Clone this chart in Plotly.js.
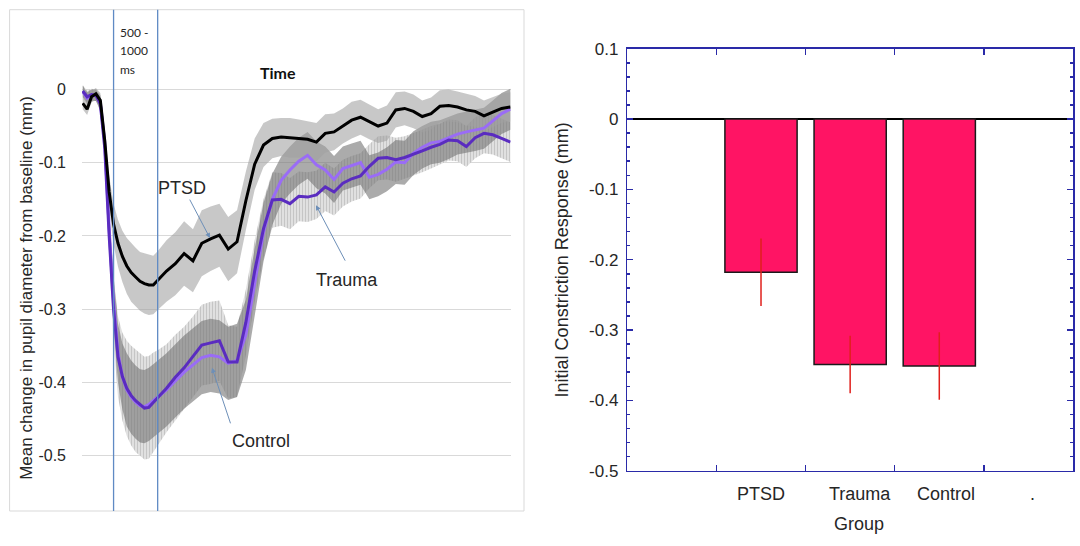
<!DOCTYPE html>
<html>
<head>
<meta charset="utf-8">
<script src="https://cdn.plot.ly/plotly-3.0.1.min.js"></script>
<style>html,body{margin:0;padding:0;background:#fff;}#chart{width:1080px;height:546px;}</style>
</head>
<body>
<div id="chart"></div>
<script>
// ---------- Left panel: pupil time course (ms) ----------
const time = [150,200,250,300,350,400,450,500,550,600,650,700,750,800,850,900,950,1000,
  1100,1200,1300,1400,1500,1600,1700,1800,1900,2000,2100,2200,2300,2400,2500,2600,2700,2800,2900,3000,
  3100,3200,3300,3400,3500,3600,3700,3800,3900,4000,4100,4200,4300,4400,4500,4600,4700,4800,4900,5000];

const ptsdMean = [-0.019,-0.027,-0.010,-0.006,-0.015,-0.070,-0.140,-0.184,-0.210,-0.228,-0.241,-0.250,-0.256,-0.262,-0.265,-0.267,-0.267,-0.261,
  -0.248,-0.238,-0.224,-0.234,-0.210,-0.204,-0.199,-0.218,-0.208,-0.152,-0.102,-0.076,-0.067,-0.065,-0.066,-0.067,-0.068,-0.072,-0.060,-0.058,
  -0.050,-0.042,-0.038,-0.044,-0.050,-0.046,-0.028,-0.026,-0.030,-0.037,-0.033,-0.023,-0.022,-0.024,-0.028,-0.030,-0.036,-0.031,-0.026,-0.024];
const ptsdSem = [0.008,0.008,0.008,0.008,0.010,0.015,0.022,0.028,0.032,0.035,0.038,0.040,0.040,0.040,0.041,0.041,0.040,0.040,
  0.042,0.043,0.044,0.043,0.045,0.044,0.043,0.044,0.043,0.040,0.035,0.030,0.027,0.026,0.027,0.026,0.025,0.026,0.026,0.025,
  0.024,0.025,0.024,0.024,0.023,0.024,0.024,0.023,0.023,0.022,0.022,0.022,0.022,0.021,0.022,0.021,0.021,0.021,0.020,0.020];

const traumaMean = [-0.002,-0.010,-0.007,-0.008,-0.020,-0.080,-0.200,-0.300,-0.365,-0.392,-0.408,-0.418,-0.425,-0.430,-0.435,-0.434,-0.427,-0.421,
  -0.408,-0.393,-0.380,-0.365,-0.349,-0.346,-0.343,-0.372,-0.372,-0.318,-0.248,-0.190,-0.151,-0.150,-0.156,-0.146,-0.147,-0.144,-0.133,-0.140,
  -0.128,-0.122,-0.118,-0.105,-0.094,-0.093,-0.096,-0.093,-0.089,-0.084,-0.079,-0.075,-0.069,-0.070,-0.078,-0.066,-0.060,-0.062,-0.067,-0.072];
const traumaSem = [0.008,0.008,0.008,0.008,0.010,0.015,0.030,0.045,0.055,0.060,0.065,0.068,0.070,0.070,0.070,0.070,0.068,0.065,
  0.060,0.058,0.056,0.055,0.055,0.056,0.055,0.050,0.048,0.045,0.042,0.040,0.038,0.036,0.035,0.034,0.034,0.033,0.033,0.032,
  0.032,0.031,0.031,0.030,0.030,0.030,0.030,0.029,0.029,0.029,0.029,0.028,0.028,0.028,0.028,0.028,0.027,0.027,0.027,0.027];

const controlMean = [-0.003,-0.012,-0.008,-0.008,-0.018,-0.072,-0.190,-0.290,-0.360,-0.392,-0.410,-0.420,-0.427,-0.432,-0.433,-0.430,-0.425,-0.420,
  -0.410,-0.398,-0.386,-0.376,-0.366,-0.363,-0.365,-0.374,-0.370,-0.335,-0.262,-0.195,-0.150,-0.124,-0.110,-0.098,-0.090,-0.103,-0.110,-0.123,
  -0.108,-0.104,-0.100,-0.120,-0.116,-0.109,-0.099,-0.100,-0.087,-0.079,-0.073,-0.071,-0.066,-0.061,-0.058,-0.056,-0.053,-0.043,-0.033,-0.027];
const controlSem = [0.008,0.008,0.008,0.008,0.010,0.015,0.025,0.035,0.040,0.045,0.050,0.050,0.050,0.050,0.050,0.050,0.050,0.050,
  0.050,0.050,0.050,0.050,0.050,0.050,0.050,0.050,0.050,0.048,0.045,0.040,0.035,0.032,0.032,0.032,0.032,0.032,0.032,0.032,
  0.030,0.030,0.030,0.030,0.030,0.030,0.030,0.030,0.030,0.029,0.029,0.029,0.029,0.028,0.028,0.028,0.028,0.028,0.028,0.028];

const windowMarks = [500, 1000];
const leftTickVals = [0,-0.1,-0.2,-0.3,-0.4,-0.5];
const leftTickText = ['0','-0.1','-0.2','-0.3','-0.4','-0.5'];

// ---------- Right panel: initial constriction ----------
const groups = ['PTSD','Trauma','Control'];
const groupPos = [1.5, 2.5, 3.5];
const constriction = [-0.218, -0.349, -0.351];
const constrictionErr = [0.048, 0.041, 0.048];
const groupLabels = ['PTSD','Trauma','Control','.'];
const groupLabelPos = [1.495, 2.61, 3.575, 4.547];
const groupTickVals = [1, 2, 3, 4];
const rightTickVals = [0.1,0,-0.1,-0.2,-0.3,-0.4,-0.5];
const rightTickText = ['0.1','0','-0.1','-0.2','-0.3','-0.4','-0.5'];

// ---------- helpers ----------
const W = 1080, H = 546;
const PX = p => p / W;
const PY = p => 1 - p / H;
function band(mean, sem) {
  const up = mean.map((m, i) => m + sem[i]);
  const lo = mean.map((m, i) => m - sem[i]);
  return { x: time.concat(time.slice().reverse()), y: up.concat(lo.reverse()) };
}
const FONT = 'Liberation Sans, Arial, sans-serif';
const TXT = '#262626';
const AX = '#2a2aa8';

const bT = band(traumaMean, traumaSem);
const bC = band(controlMean, controlSem);
const bP = band(ptsdMean, ptsdSem);

const traces = [
  { x: bT.x, y: bT.y, type: 'scatter', mode: 'lines', fill: 'toself', line: { width: 0, color: 'rgba(0,0,0,0)' },
    fillcolor: '#e0e0e0', fillpattern: { shape: '|', bgcolor: '#e0e0e0', fgcolor: '#c2c2c2', size: 3, solidity: 0.3 },
    hoverinfo: 'skip', showlegend: false, xaxis: 'x', yaxis: 'y' },
  { x: bC.x, y: bC.y, type: 'scatter', mode: 'lines', fill: 'toself', line: { width: 0, color: 'rgba(0,0,0,0)' },
    fillcolor: 'rgba(115,115,115,0.6)', hoverinfo: 'skip', showlegend: false, xaxis: 'x', yaxis: 'y' },
  { x: bP.x, y: bP.y, type: 'scatter', mode: 'lines', fill: 'toself', line: { width: 0, color: 'rgba(0,0,0,0)' },
    fillcolor: 'rgba(160,160,160,0.58)', hoverinfo: 'skip', showlegend: false, xaxis: 'x', yaxis: 'y' },
  { x: time, y: controlMean, type: 'scatter', mode: 'lines', name: 'Control', line: { color: '#9a6cf6', width: 3 }, showlegend: false, xaxis: 'x', yaxis: 'y' },
  { x: time, y: traumaMean, type: 'scatter', mode: 'lines', name: 'Trauma', line: { color: '#5a2cc0', width: 3 }, showlegend: false, xaxis: 'x', yaxis: 'y' },
  { x: time, y: ptsdMean, type: 'scatter', mode: 'lines', name: 'PTSD', line: { color: '#000000', width: 3 }, showlegend: false, xaxis: 'x', yaxis: 'y' },
  { x: groupPos, y: constriction, type: 'bar', width: 0.81, text: groups, textposition: 'none',
    marker: { color: '#ff1464', line: { color: '#1a1a1a', width: 1.5 } },
    error_y: { type: 'data', array: constrictionErr, visible: true, color: '#e0201c', thickness: 1.5, width: 0 },
    showlegend: false, xaxis: 'x2', yaxis: 'y2' },
  // invisible companion so the overlaid label / right-tick axes get drawn
  { x: groupPos, y: constriction, type: 'scatter', mode: 'markers', marker: { opacity: 0, size: 1 },
    hoverinfo: 'skip', showlegend: false, xaxis: 'x3', yaxis: 'y3' }
];

const shapes = windowMarks.map(t => ({ type: 'line', xref: 'x', yref: 'paper', x0: t, x1: t, y0: PY(511), y1: PY(9.7),
  line: { color: '#5f8ac4', width: 1.3 }, layer: 'above' }));
shapes.unshift({ type: 'rect', xref: 'paper', yref: 'paper', x0: PX(9.6), x1: PX(524), y0: PY(511), y1: PY(9.7),
  line: { color: '#d9d9d9', width: 1 }, fillcolor: 'rgba(0,0,0,0)', layer: 'below' });

const ARW = '#6d8fb8';
const annotations = [
  { xref: 'paper', yref: 'paper', x: PX(25.8), y: PY(288), text: 'Mean change in pupil diameter from baseline (mm)', textangle: -90,
    showarrow: false, font: { family: FONT, size: 17, color: TXT }, xanchor: 'center', yanchor: 'middle' },
  { xref: 'paper', yref: 'paper', x: PX(118.3), y: PY(32.7), text: '500 -', showarrow: false, xanchor: 'left', yanchor: 'middle', font: { family: 'Lato', size: 12, color: TXT } },
  { xref: 'paper', yref: 'paper', x: PX(118.3), y: PY(50.7), text: '1000', showarrow: false, xanchor: 'left', yanchor: 'middle', font: { family: 'Lato', size: 12, color: TXT } },
  { xref: 'paper', yref: 'paper', x: PX(118.3), y: PY(69), text: 'ms', showarrow: false, xanchor: 'left', yanchor: 'middle', font: { family: 'Lato', size: 12, color: TXT } },
  { xref: 'paper', yref: 'paper', x: PX(278.3), y: PY(72.7), text: '<b>Time</b>', showarrow: false, xanchor: 'center', yanchor: 'middle', font: { family: 'Lato', size: 16, color: '#111' } },
  { xref: 'x', yref: 'y', x: 1281, y: -0.1346, text: 'PTSD', showarrow: false, font: { family: FONT, size: 18, color: TXT } },
  { xref: 'x', yref: 'y', x: 3147, y: -0.2606, text: 'Trauma', showarrow: false, font: { family: FONT, size: 18, color: TXT } },
  { xref: 'x', yref: 'y', x: 2168, y: -0.4793, text: 'Control', showarrow: false, font: { family: FONT, size: 18, color: TXT } },
  { xref: 'x', yref: 'y', x: 1593, y: -0.203, ax: -21, ay: -40, text: '', showarrow: true, arrowhead: 2, arrowsize: 1, arrowwidth: 1, arrowcolor: ARW, standoff: 0 },
  { xref: 'x', yref: 'y', x: 2795, y: -0.158, ax: 30, ay: 57, text: '', showarrow: true, arrowhead: 2, arrowsize: 1, arrowwidth: 1, arrowcolor: ARW, standoff: 0 },
  { xref: 'x', yref: 'y', x: 1616, y: -0.380, ax: 19, ay: 57, text: '', showarrow: true, arrowhead: 2, arrowsize: 1, arrowwidth: 1, arrowcolor: ARW, standoff: 0 },
  { xref: 'paper', yref: 'paper', x: PX(562.4), y: PY(260), text: 'Initial Constriction Response (mm)', textangle: -90,
    showarrow: false, font: { family: FONT, size: 18, color: TXT }, xanchor: 'center', yanchor: 'middle' },
  { xref: 'paper', yref: 'paper', x: PX(859.2), y: PY(524), text: 'Group', showarrow: false,
    font: { family: FONT, size: 18, color: TXT }, xanchor: 'center', yanchor: 'middle' }
];
groupLabels.forEach((g, i) => annotations.push({ xref: 'x2', yref: 'paper', x: groupLabelPos[i], y: PY(494.4), text: g,
  showarrow: false, xanchor: 'center', yanchor: 'middle', font: { family: FONT, size: 18, color: TXT } }));

const layout = {
  width: W, height: H, margin: { l: 0, r: 0, t: 0, b: 0 },
  paper_bgcolor: '#ffffff', plot_bgcolor: 'rgba(0,0,0,0)', showlegend: false,
  xaxis: { domain: [PX(82), PX(510.7)], range: [142, 5003], showgrid: false, zeroline: false, showline: false,
    showticklabels: false, ticks: '', anchor: 'y' },
  yaxis: { domain: [PY(470), PY(80)], range: [-0.5195, 0.01283], tickmode: 'array', tickvals: leftTickVals, ticktext: leftTickText,
    showgrid: true, gridcolor: '#d9d9d9', gridwidth: 1, zeroline: false, showline: false, ticks: '', ticklabelstandoff: 15,
    tickfont: { family: FONT, size: 16, color: TXT }, anchor: 'x' },
  xaxis2: { domain: [PX(627.3), PX(1073)], range: [0, 5], tickmode: 'array', tickvals: groupTickVals, showticklabels: false,
    ticks: 'inside', ticklen: 6, tickwidth: 1.5, tickcolor: AX, showline: true, linecolor: AX, linewidth: 1.5, mirror: 'ticks',
    showgrid: false, zeroline: false, anchor: 'y2' },
  yaxis2: { domain: [PY(470.7), PY(48.7)], range: [-0.5, 0.1], tickmode: 'array', tickvals: rightTickVals, ticktext: rightTickText,
    ticks: 'inside', ticklen: 6, tickwidth: 1.5, tickcolor: AX, showline: true, linecolor: AX, linewidth: 1.5, mirror: 'ticks',
    minor: { tickmode: 'linear', tick0: 0, dtick: 0.02, ticks: 'inside', ticklen: 3, tickwidth: 1.5, tickcolor: AX },
    showgrid: false, zeroline: true, zerolinecolor: '#000000', zerolinewidth: 1.2, ticklabelstandoff: 4,
    tickfont: { family: FONT, size: 17, color: TXT }, anchor: 'x2' },
  xaxis3: { overlaying: 'x2', range: [0, 5], showticklabels: false, ticks: '', showline: false, showgrid: false, zeroline: false, anchor: 'y3' },
  yaxis3: { overlaying: 'y2', side: 'right', anchor: 'x3', range: [-0.5, 0.1], showticklabels: false, showline: false, showgrid: false, zeroline: false,
    tickmode: 'array', tickvals: rightTickVals, ticks: 'inside', ticklen: 6, tickwidth: 1.5, tickcolor: AX,
    minor: { tickmode: 'linear', tick0: 0, dtick: 0.02, ticks: 'inside', ticklen: 3, tickwidth: 1.5, tickcolor: AX } },
  shapes: shapes,
  annotations: annotations
};

Plotly.newPlot('chart', traces, layout, { staticPlot: true, displayModeBar: false });
</script>
</body>
</html>
